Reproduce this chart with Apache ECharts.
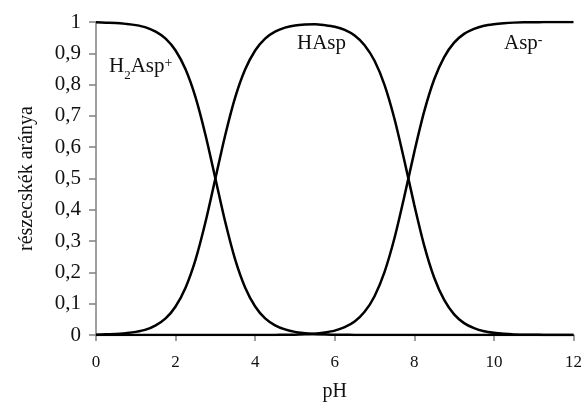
<!DOCTYPE html>
<html>
<head>
<meta charset="utf-8">
<script src="https://cdn.jsdelivr.net/npm/echarts@6/dist/echarts.min.js"></script>
<style>
  html, body { margin: 0; padding: 0; background: #fff; }
  #chart { width: 585px; height: 407px; }
</style>
</head>
<body>
<div id="chart"></div>
<script>
// pH values (x) and species fractions of aspartic acid forms
const pH = [0, 0.25, 0.5, 0.75, 1, 1.25, 1.5, 1.75, 2, 2.25, 2.5, 2.75, 3, 3.25, 3.5, 3.75,
  4, 4.25, 4.5, 4.75, 5, 5.25, 5.5, 5.75, 6, 6.25, 6.5, 6.75, 7, 7.25, 7.5, 7.75,
  8, 8.25, 8.5, 8.75, 9, 9.25, 9.5, 9.75, 10, 10.25, 10.5, 10.75, 11, 11.25, 11.5, 11.75, 12];

const h2asp = [0.999, 0.998, 0.997, 0.994, 0.990, 0.983, 0.969, 0.947, 0.909, 0.849, 0.760, 0.640, 0.500, 0.360, 0.240, 0.151,
  0.091, 0.053, 0.031, 0.018, 0.010, 0.006, 0.003, 0.002, 0.001, 0.001, 0.000, 0.000, 0.000, 0.000, 0.000, 0.000,
  0.000, 0.000, 0.000, 0.000, 0.000, 0.000, 0.000, 0.000, 0.000, 0.000, 0.000, 0.000, 0.000, 0.000, 0.000, 0.000, 0.000];

const hasp = [0.001, 0.002, 0.003, 0.006, 0.010, 0.017, 0.031, 0.053, 0.091, 0.151, 0.240, 0.360, 0.500, 0.640, 0.760, 0.849,
  0.909, 0.947, 0.969, 0.982, 0.989, 0.992, 0.993, 0.990, 0.985, 0.975, 0.957, 0.926, 0.876, 0.799, 0.691, 0.557,
  0.415, 0.285, 0.183, 0.112, 0.066, 0.038, 0.022, 0.012, 0.007, 0.004, 0.002, 0.001, 0.001, 0.000, 0.000, 0.000, 0.000];

const asp = [0.000, 0.000, 0.000, 0.000, 0.000, 0.000, 0.000, 0.000, 0.000, 0.000, 0.000, 0.000, 0.000, 0.000, 0.000, 0.000,
  0.000, 0.000, 0.000, 0.001, 0.001, 0.003, 0.004, 0.008, 0.014, 0.025, 0.043, 0.074, 0.124, 0.201, 0.309, 0.443,
  0.585, 0.715, 0.817, 0.888, 0.934, 0.962, 0.978, 0.988, 0.993, 0.996, 0.998, 0.999, 0.999, 1.000, 1.000, 1.000, 1.000];

const serif = '"Liberation Serif", "Times New Roman", serif';

function pairs(ys) { return pH.map((x, i) => [x, ys[i]]); }

function curve(name, ys) {
  return {
    name: name,
    type: 'line',
    data: pairs(ys),
    smooth: 0.3,
    showSymbol: false,
    lineStyle: { color: '#000', width: 2.5 },
    z: 3
  };
}

// rich text styles for species names with sub/superscripts
const richStyles = {
  b: { fontFamily: serif, fontSize: 21, fill: '#111', verticalAlign: 'top', lineHeight: 26 },
  s: { fontFamily: serif, fontSize: 13, fill: '#111', verticalAlign: 'bottom', lineHeight: 14 },
  u: { fontFamily: serif, fontSize: 14, fill: '#111', verticalAlign: 'top', lineHeight: 15 }
};

const chart = echarts.init(document.getElementById('chart'), null, { renderer: 'canvas' });

chart.setOption({
  animation: false,
  backgroundColor: '#fff',
  grid: { left: 96, right: 9, top: 22, bottom: 71 },
  xAxis: {
    type: 'value',
    min: 0, max: 12, interval: 2,
    name: 'pH',
    nameLocation: 'middle',
    nameGap: 47,
    nameTextStyle: { fontFamily: serif, fontSize: 20, color: '#111' },
    axisLine: { onZero: false, lineStyle: { color: '#808080', width: 1.5 } },
    axisTick: { show: true, length: 6, lineStyle: { color: '#808080', width: 1.5 } },
    axisLabel: { fontFamily: serif, fontSize: 17, color: '#111', margin: 19 },
    splitLine: { show: false }
  },
  yAxis: {
    type: 'value',
    min: 0, max: 1, interval: 0.1,
    name: 'részecskék aránya',
    nameLocation: 'middle',
    nameGap: 59,
    nameTextStyle: { fontFamily: serif, fontSize: 20, color: '#111' },
    axisLine: { show: true, lineStyle: { color: '#808080', width: 1.5 } },
    axisTick: { show: true, length: 7, lineStyle: { color: '#808080', width: 1.5 } },
    axisLabel: {
      fontFamily: serif, fontSize: 21, color: '#111', margin: 15,
      formatter: v => (Math.round(v * 10) / 10).toString().replace('.', ',')
    },
    splitLine: { show: false }
  },
  graphic: [
    {
      type: 'text', left: 109, top: 56,
      style: { text: '{b|H}{s|2}{b|Asp}{u|+}', rich: richStyles }
    },
    {
      type: 'text', left: 297, top: 33,
      style: { text: '{b|HAsp}', rich: richStyles }
    },
    {
      type: 'text', left: 504, top: 33,
      style: { text: '{b|Asp}{u|-}', rich: richStyles }
    }
  ],
  series: [
    curve('H2Asp+', h2asp),
    curve('HAsp', hasp),
    curve('Asp-', asp)
  ]
});
</script>
</body>
</html>
